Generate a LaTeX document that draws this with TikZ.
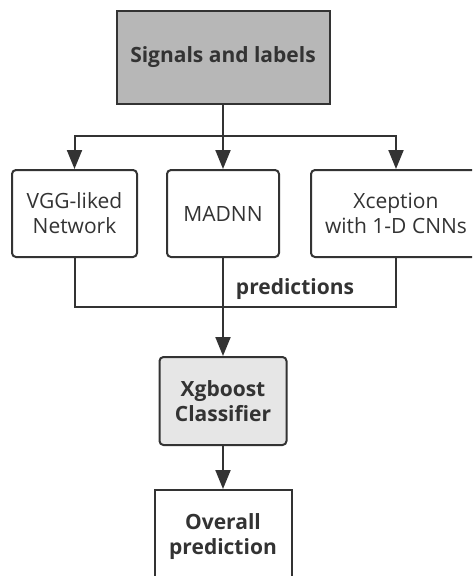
\documentclass[tikz,border=0pt]{standalone}
\usepackage{fontspec}
\setmainfont{Open Sans}
\usepackage{tikz}
\usetikzlibrary{arrows.meta}
\pgfdeclarelayer{edgelayer}
\pgfdeclarelayer{nodelayer}
\pgfsetlayers{edgelayer,nodelayer,main}
\definecolor{inkgrey}{RGB}{51,51,51}
\tikzstyle{none}=[inner sep=0pt]
\tikzstyle{block}=[draw=inkgrey, text=inkgrey, shape=rectangle, line width=2pt, align=center, font=\fontsize{21}{25}\selectfont]
\tikzstyle{data_block}=[block, fill={rgb,255: red,183; green,183; blue,183}, font=\fontsize{21}{25}\selectfont\bfseries]
\tikzstyle{model_block}=[block, fill=white, rounded corners=4pt]
\tikzstyle{classifier_block}=[block, fill={rgb,255: red,230; green,230; blue,230}, rounded corners=4pt, font=\fontsize{21}{25}\selectfont\bfseries]
\tikzstyle{result_block}=[block, fill=white, font=\fontsize{21}{25}\selectfont\bfseries]
\tikzstyle{myText}=[text=inkgrey, font=\fontsize{21}{25}\selectfont\bfseries]
\tikzstyle{main_connector}=[-, draw=inkgrey, line width=2pt]
\tikzstyle{arrow_connector}=[main_connector, -{Triangle[length=19pt, width=15pt]}]

\begin{document}
\begin{tikzpicture}[x=1pt, y=-1pt]
    \useasboundingbox (0, 0) rectangle (472, 576);
    \begin{pgfonlayer}{nodelayer}
        \clip (0, 0) rectangle (472, 576);
        % input
        \node [style={data_block}, minimum width=213pt, minimum height=93pt] (0) at (223, 57.5) {Signals and labels};

        % three networks
        \node [style={model_block}, minimum width=125pt, minimum height=87pt] (1) at (74.5, 213.5) {VGG-liked\\Network};
        \node [style={model_block}, minimum width=112pt, minimum height=87pt] (2) at (223, 213.5) {MADNN};
        \node [style={model_block}, minimum width=170pt, minimum height=87pt] (3) at (396, 213.5) {Xception\\with 1-D CNNs};

        % stacking
        \node [style={classifier_block}, minimum width=127pt, minimum height=88pt] (4) at (223, 401) {Xgboost\\Classifier};
        \node [style={result_block}, minimum width=137pt, minimum height=94pt] (5) at (223, 537) {Overall\\prediction};

        % label on the merge line
        \node [style=myText] (6) at (295, 289) {predictions};

        % empty nodes for the split and the merge
        \coordinate (100) at (223, 136);
        \coordinate (101) at (223, 307);
    \end{pgfonlayer}
    \begin{pgfonlayer}{edgelayer}
        \draw [style={main_connector}] (0) to (100);
        \draw [style={arrow_connector}] (100) -| (1);
        \draw [style={arrow_connector}] (100) to (2);
        \draw [style={arrow_connector}] (100) -| (3);
        \draw [style={main_connector}] (1) |- (101);
        \draw [style={main_connector}] (3) |- (101);
        \draw [style={main_connector}] (2) to (101);
        \draw [style={arrow_connector}] (101) to (4);
        \draw [style={arrow_connector}] (4) to (5);
    \end{pgfonlayer}
\end{tikzpicture}
\end{document}
